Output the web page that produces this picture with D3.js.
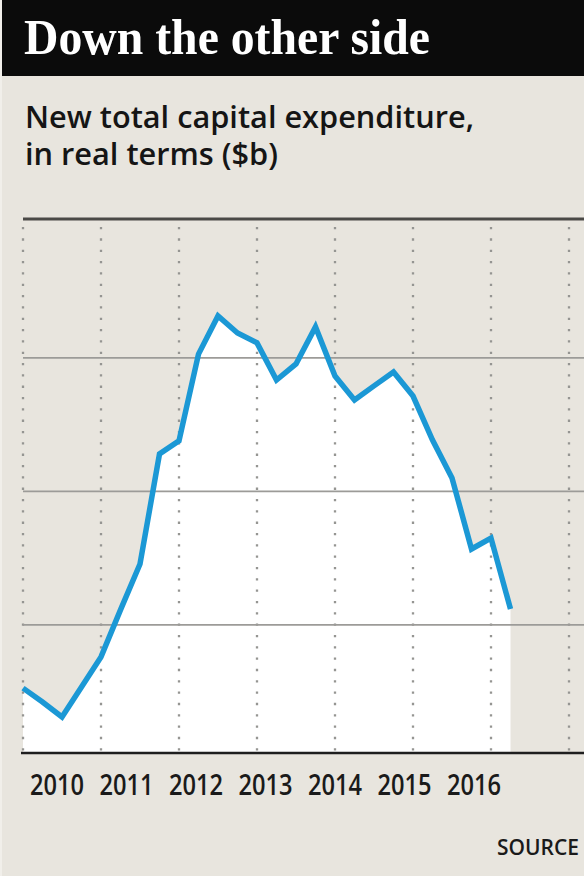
<!DOCTYPE html>
<html>
<head>
<meta charset="utf-8">
<script src="https://cdn.jsdelivr.net/npm/d3@7"></script>
<style>
  html, body { margin: 0; padding: 0; background: #e8e5de; }
  svg { display: block; }
</style>
</head>
<body>
<div id="chart"></div>
<script>
// quarterly periods, new capex in real terms ($b)
const quarters = [
  "2010 Q1", "2010 Q2", "2010 Q3", "2010 Q4",
  "2011 Q1", "2011 Q2", "2011 Q3", "2011 Q4",
  "2012 Q1", "2012 Q2", "2012 Q3", "2012 Q4",
  "2013 Q1", "2013 Q2", "2013 Q3", "2013 Q4",
  "2014 Q1", "2014 Q2", "2014 Q3", "2014 Q4",
  "2015 Q1", "2015 Q2", "2015 Q3", "2015 Q4",
  "2016 Q1", "2016 Q2"
];
const capex = [
  22.63, 22.11, 21.55, 22.67,
  23.80, 25.56, 27.28, 31.40,
  31.89, 35.14, 36.57, 35.93,
  35.56, 34.17, 34.77, 36.16,
  34.32, 33.42, 33.95, 34.47,
  33.57, 31.92, 30.50, 27.84,
  28.25, 25.59
];
const yearLabels = ["2010", "2011", "2012", "2013", "2014", "2015", "2016"];
const yearGrid = [2010, 2011, 2012, 2013, 2014, 2015, 2016, 2017];
const yGrid = [25, 30, 35];

const W = 584, H = 876;
const plot = { left: 23, right: 584, top: 219, bottom: 753 };

const data = quarters.map((q, i) => {
  const [yr, qq] = q.split(" Q");
  return { t: +yr + (+qq - 1) / 4, v: capex[i] };
});

const x = d3.scaleLinear().domain([2010, 2017]).range([plot.left, 569]);
const y = d3.scaleLinear().domain([20.2, 40.2]).range([plot.bottom, plot.top]);
const xLabel = d3.scalePoint().domain(yearLabels).range([57, 474]);

const svg = d3.select("#chart").append("svg")
  .attr("width", W)
  .attr("height", H);

svg.append("rect")
  .attr("width", W).attr("height", H)
  .attr("fill", "#e8e5de");
svg.append("rect")
  .attr("width", 2).attr("height", H)
  .attr("fill", "#f1efea");

/** header band */
svg.append("rect")
  .attr("x", 2).attr("y", 0)
  .attr("width", W - 2).attr("height", 76)
  .attr("fill", "#0b0b0b");

svg.append("text")
  .attr("x", 24).attr("y", 54)
  .attr("font-family", "'Liberation Serif', 'DejaVu Serif', serif")
  .attr("font-weight", "bold")
  .attr("font-size", 50)
  .attr("fill", "#ffffff")
  .attr("textLength", 406)
  .attr("lengthAdjust", "spacingAndGlyphs")
  .text("Down the other side");

const subtitle = ["New total capital expenditure,", "in real terms ($b)"];
const subWidths = [449, 253];
svg.selectAll("text.sub")
  .data(subtitle)
  .enter()
  .append("text")
  .attr("class", "sub")
  .attr("x", 25)
  .attr("y", (d, i) => 128 + i * 37)
  .attr("font-family", "'Open Sans', 'Noto Sans', sans-serif")
  .attr("font-weight", 600)
  .attr("font-size", 30)
  .attr("fill", "#151515")
  .attr("textLength", (d, i) => subWidths[i])
  .attr("lengthAdjust", "spacingAndGlyphs")
  .text(d => d);

/** white area under the line */
const area = d3.area()
  .x(d => x(d.t))
  .y0(plot.bottom)
  .y1(d => y(d.v));

svg.append("path")
  .datum(data)
  .attr("d", area)
  .attr("fill", "#ffffff");

/** dotted verticals */
svg.append("g")
  .selectAll("line")
  .data(yearGrid)
  .enter()
  .append("line")
  .attr("x1", d => x(d)).attr("x2", d => x(d))
  .attr("y1", 227).attr("y2", plot.bottom)
  .attr("stroke", "#959592")
  .attr("stroke-width", 2.3)
  .attr("stroke-dasharray", "2.3 9.03");

/** horizontal grid */
svg.append("g")
  .selectAll("line")
  .data(yGrid)
  .enter()
  .append("line")
  .attr("x1", plot.left).attr("x2", plot.right)
  .attr("y1", d => y(d)).attr("y2", d => y(d))
  .attr("stroke", "#9c9b98")
  .attr("stroke-width", 1.6);

// top rule
svg.append("line")
  .attr("x1", plot.left).attr("x2", plot.right)
  .attr("y1", plot.top).attr("y2", plot.top)
  .attr("stroke", "#4a4946")
  .attr("stroke-width", 3);

// baseline
svg.append("line")
  .attr("x1", 21).attr("x2", plot.right)
  .attr("y1", plot.bottom).attr("y2", plot.bottom)
  .attr("stroke", "#1e1e1e")
  .attr("stroke-width", 2.5);

/** the line */
const line = d3.line()
  .x(d => x(d.t))
  .y(d => y(d.v));

svg.append("path")
  .datum(data)
  .attr("d", line)
  .attr("fill", "none")
  .attr("stroke", "#1b98d5")
  .attr("stroke-width", 5.5)
  .attr("stroke-linejoin", "miter");

/** year labels */
svg.append("g")
  .selectAll("text")
  .data(yearLabels)
  .enter()
  .append("text")
  .attr("x", d => xLabel(d))
  .attr("y", 795)
  .attr("text-anchor", "middle")
  .attr("font-family", "'Open Sans', 'Noto Sans', sans-serif")
  .attr("font-weight", 600)
  .attr("font-size", 29)
  .attr("fill", "#1a1a1a")
  .attr("textLength", 54)
  .attr("lengthAdjust", "spacingAndGlyphs")
  .text(d => d);

svg.append("text")
  .attr("x", 497).attr("y", 855)
  .attr("font-family", "'Open Sans', 'Noto Sans', sans-serif")
  .attr("font-weight", 600)
  .attr("font-size", 22)
  .attr("fill", "#1a1a1a")
  .attr("textLength", 82)
  .attr("lengthAdjust", "spacingAndGlyphs")
  .text("SOURCE");
</script>
</body>
</html>
